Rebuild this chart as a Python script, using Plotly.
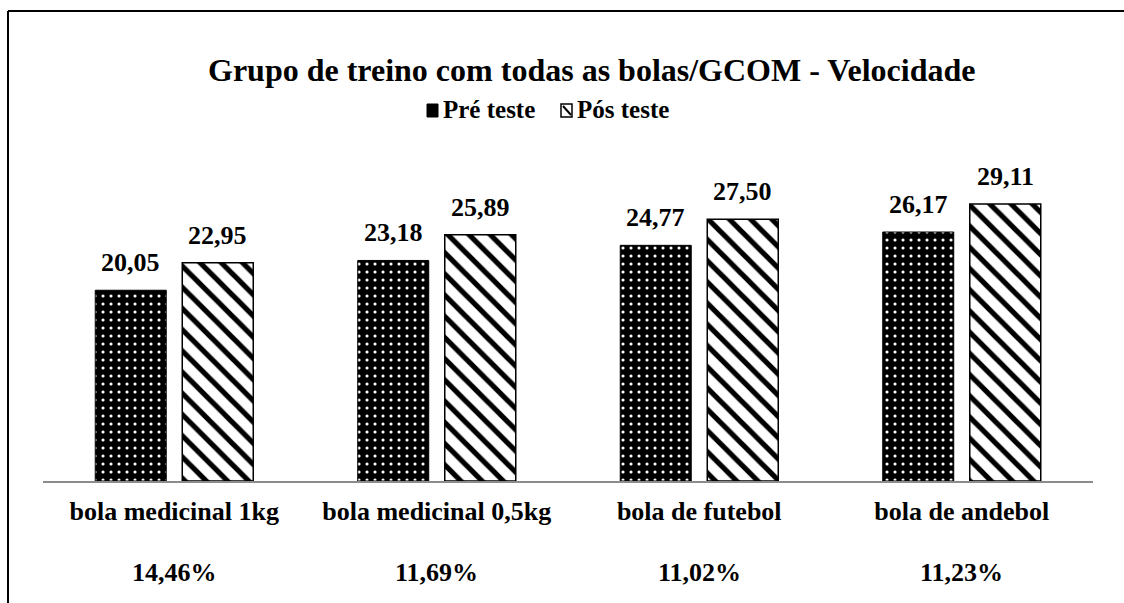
import plotly.graph_objects as go

categories = ["bola medicinal 1kg", "bola medicinal 0,5kg", "bola de futebol", "bola de andebol"]
pre_teste = [20.05, 23.18, 24.77, 26.17]
pos_teste = [22.95, 25.89, 27.50, 29.11]
percent_labels = ["14,46%", "11,69%", "11,02%", "11,23%"]
title_text = "Grupo de treino com todas as bolas/GCOM - Velocidade"

W, H = 1124, 603
L, R, T, B = 43, 31, 148, 122
PW, PH = W - L - R, H - T - B
FONT = "Liberation Serif"
BARGAP, GROUPGAP = 0.337, 0.184

def px(x):
    return (x - L) / PW

def py(y):
    return (H - B - y) / PH

fig = go.Figure()
fig.add_trace(go.Bar(
    name="Pré teste", x=categories, y=pre_teste,
    marker=dict(color="black", line=dict(color="black", width=1),
                pattern=dict(shape=".", bgcolor="black", fgcolor="white", size=8, solidity=0.12, fillmode="replace")),
))
fig.add_trace(go.Bar(
    name="Pós teste", x=categories, y=pos_teste,
    marker=dict(color="white", line=dict(color="black", width=1.5),
                pattern=dict(shape="\\", bgcolor="white", fgcolor="black", size=15, solidity=0.35, fillmode="replace")),
))

annotations = []
# value labels above the bars (offset of each series within its group, in px)
slot = PW / len(categories) * (1 - BARGAP) / 2
for series, sign in ((pre_teste, -1), (pos_teste, 1)):
    for c, v in zip(categories, series):
        annotations.append(dict(x=c, xref="x", y=v, yref="y", xshift=sign * slot / 2, yshift=11,
                                text="<b>%s</b>" % ("%.2f" % v).replace(".", ","),
                                showarrow=False, yanchor="bottom",
                                font=dict(family=FONT, size=26, color="black")))
for c, p in zip(categories, percent_labels):
    annotations.append(dict(x=c, xref="x", y=py(572), yref="paper", text="<b>%s</b>" % p,
                            showarrow=False, yanchor="middle",
                            font=dict(family=FONT, size=26, color="black")))
annotations.append(dict(x=px(591), xref="paper", y=py(70), yref="paper", text="<b>%s</b>" % title_text,
                        showarrow=False, xanchor="center", yanchor="middle",
                        font=dict(family=FONT, size=32, color="black")))
annotations.append(dict(x=px(441), xref="paper", y=py(110), yref="paper", text="<b>Pré teste</b>",
                        showarrow=False, xanchor="left", yanchor="middle",
                        font=dict(family=FONT, size=25, color="black")))
annotations.append(dict(x=px(575), xref="paper", y=py(110), yref="paper", text="<b>Pós teste</b>",
                        showarrow=False, xanchor="left", yanchor="middle",
                        font=dict(family=FONT, size=25, color="black")))

shapes = [
    # outer border
    dict(type="line", xref="paper", yref="paper", x0=px(8), x1=px(8), y0=py(11), y1=py(H + 5),
         line=dict(color="black", width=2)),
    dict(type="line", xref="paper", yref="paper", x0=px(8), x1=px(W + 5), y0=py(11), y1=py(11),
         line=dict(color="black", width=2)),
    # legend icons
    dict(type="rect", xref="paper", yref="paper", x0=px(427), x1=px(438), y0=py(117), y1=py(104),
         fillcolor="black", line=dict(color="black", width=1)),
    dict(type="rect", xref="paper", yref="paper", x0=px(561), x1=px(572), y0=py(117), y1=py(104),
         fillcolor="white", line=dict(color="black", width=1.5)),
    dict(type="line", xref="paper", yref="paper", x0=px(563), x1=px(571), y0=py(106), y1=py(115),
         line=dict(color="black", width=2)),
]

fig.update_layout(
    width=W, height=H,
    margin=dict(l=L, r=R, t=T, b=B, autoexpand=False),
    paper_bgcolor="white", plot_bgcolor="white",
    barmode="group", bargap=BARGAP, bargroupgap=GROUPGAP,
    showlegend=False,
    font=dict(family=FONT, color="black"),
    annotations=annotations, shapes=shapes,
)
fig.update_xaxes(showline=True, linecolor="#8c8c8c", linewidth=2, showgrid=False, ticks="",
                 tickfont=dict(family=FONT, size=26, color="black", weight="bold"),
                 ticklabelstandoff=6)
fig.update_yaxes(range=[0, 35], visible=False, showgrid=False, zeroline=False)

fig.write_html("out.html", config={"displayModeBar": False},
               post_script="document.body.style.margin='0px';")
